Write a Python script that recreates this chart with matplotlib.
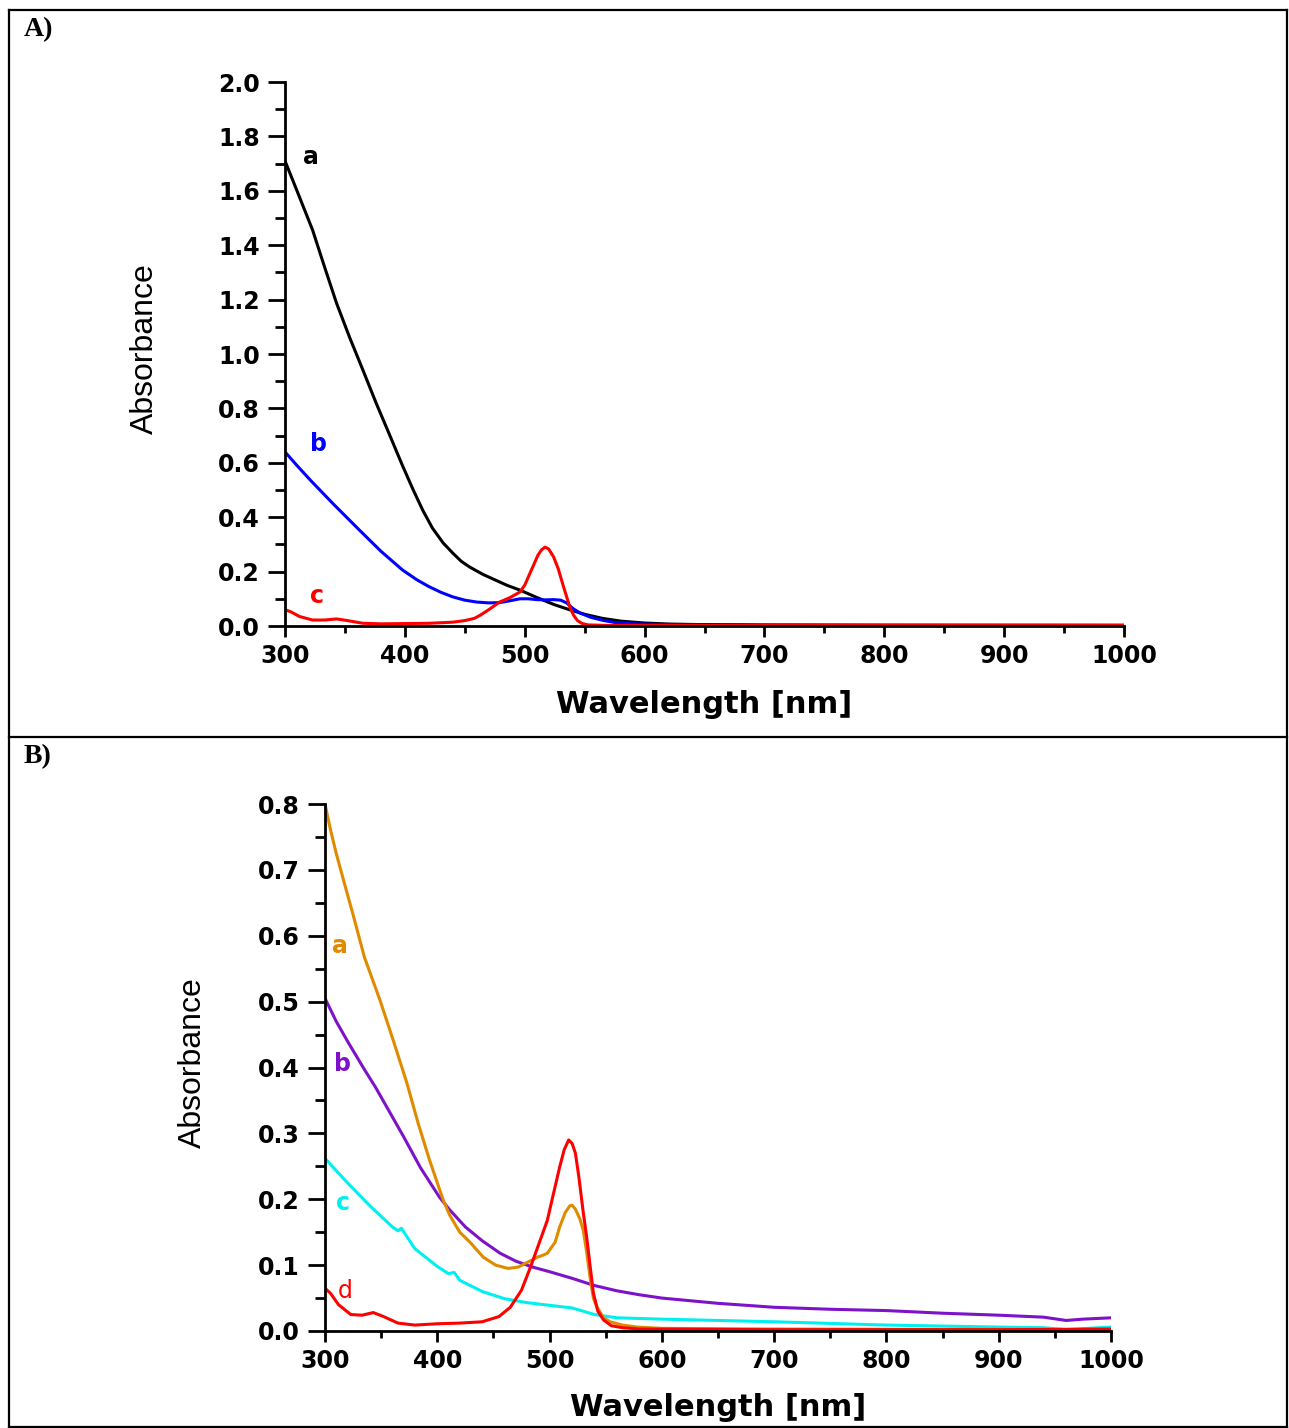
""" UV-Vis absorbance spectra, panels A and B """

import matplotlib
matplotlib.use("Agg")
import matplotlib.pyplot as plt
from matplotlib.lines import Line2D
from matplotlib.ticker import MultipleLocator

# ---- panel A data (wavelength nm, absorbance) ----
a_wl_a = [300, 310, 323, 333, 343, 354, 365, 376, 388, 398, 407, 415, 423, 432, 440,
          447, 454, 465, 475, 485, 496, 510, 525, 538, 550, 565, 580, 600, 621, 650,
          700, 800, 1000]
a_abs_a = [1.71, 1.60, 1.456, 1.32, 1.187, 1.06, 0.941, 0.82, 0.695, 0.59, 0.50, 0.425,
           0.36, 0.305, 0.268, 0.238, 0.217, 0.19, 0.17, 0.15, 0.132, 0.105, 0.078, 0.059,
           0.043, 0.028, 0.018, 0.011, 0.007, 0.005, 0.003, 0.002, 0.002]

b_wl_a = [300, 310, 321, 340, 362, 380, 398, 410, 420, 430, 440, 450, 460, 470, 479,
          488, 496, 503, 510, 517, 524, 530, 535, 540, 546, 555, 566, 575, 590, 610,
          700, 1000]
b_abs_a = [0.64, 0.59, 0.537, 0.45, 0.353, 0.275, 0.206, 0.17, 0.145, 0.124, 0.107,
           0.095, 0.088, 0.085, 0.086, 0.093, 0.1, 0.1, 0.097, 0.096, 0.097, 0.095, 0.085,
           0.065, 0.048, 0.032, 0.02, 0.013, 0.008, 0.006, 0.004, 0.003]

c_wl_a = [300, 305, 312, 323, 333, 343, 352, 365, 380, 400, 420, 440, 450, 458, 463,
          470, 479, 488, 496, 500, 503, 507, 511, 514, 517, 520, 524, 528, 532, 535,
          538, 541, 544, 548, 553, 570, 1000]
c_abs_a = [0.06, 0.052, 0.035, 0.022, 0.022, 0.026, 0.02, 0.01, 0.008, 0.009, 0.01,
           0.014, 0.02, 0.028, 0.04, 0.06, 0.088, 0.105, 0.125, 0.15, 0.18, 0.22, 0.26,
           0.28, 0.29, 0.283, 0.255, 0.21, 0.15, 0.107, 0.065, 0.038, 0.02, 0.009, 0.004,
           0.002, 0.002]

# ---- panel B data ----
a_wl_b = [300, 305, 310, 318, 325, 335, 349, 361, 373, 383, 393, 400, 405, 411, 420,
          429, 441, 452, 463, 472, 480, 489, 494, 498, 505, 509, 514, 518, 520, 523,
          527, 530, 533, 536, 539, 542, 548, 554, 565, 578, 600, 700, 1000]
a_abs_b = [0.80, 0.76, 0.725, 0.675, 0.632, 0.568, 0.502, 0.44, 0.376, 0.315, 0.26, 0.225,
           0.20, 0.176, 0.15, 0.135, 0.112, 0.1, 0.095, 0.097, 0.104, 0.112, 0.115, 0.118,
           0.135, 0.158, 0.18, 0.19, 0.191, 0.185, 0.17, 0.153, 0.12, 0.082, 0.05, 0.037,
           0.02, 0.014, 0.009, 0.006, 0.004, 0.003, 0.002]

b_wl_b = [300, 310, 320, 334, 345, 355, 370, 385, 402, 411, 425, 440, 456, 470, 485,
          500, 520, 540, 560, 580, 600, 650, 700, 750, 800, 850, 900, 940, 960, 975, 1000]
b_abs_b = [0.505, 0.47, 0.44, 0.40, 0.37, 0.34, 0.295, 0.248, 0.203, 0.184, 0.158,
           0.137, 0.118, 0.106, 0.097, 0.09, 0.08, 0.069, 0.061, 0.055, 0.05, 0.042,
           0.036, 0.033, 0.031, 0.027, 0.024, 0.021, 0.016, 0.018, 0.02]

c_wl_b = [300, 320, 340, 360, 365, 368, 380, 400, 410, 415, 420, 440, 460, 480, 500,
          520, 540, 560, 600, 700, 800, 900, 940, 960, 1000]
c_abs_b = [0.262, 0.225, 0.19, 0.158, 0.152, 0.156, 0.125, 0.098, 0.087, 0.089, 0.077,
           0.06, 0.049, 0.043, 0.039, 0.035, 0.025, 0.02, 0.018, 0.014, 0.009, 0.006,
           0.005, 0.002, 0.006]

d_wl_b = [300, 305, 312, 323, 333, 343, 352, 365, 380, 400, 420, 440, 455, 465, 475,
          483, 490, 498, 503, 509, 513, 517, 520, 523, 526, 530, 533, 536, 539, 543,
          548, 555, 565, 580, 700, 900, 1000]
d_abs_b = [0.065, 0.057, 0.04, 0.025, 0.024, 0.028, 0.022, 0.012, 0.009, 0.011, 0.012,
           0.014, 0.022, 0.036, 0.062, 0.097, 0.13, 0.168, 0.205, 0.249, 0.275, 0.29,
           0.285, 0.27, 0.235, 0.18, 0.143, 0.1, 0.058, 0.03, 0.017, 0.008, 0.005, 0.003,
           0.002, 0.002, 0.003]

ORANGE = "#e08a00"
PURPLE = "#7d12c8"
CYAN = "#00f0f0"

W, H = 1289, 1428
fig = plt.figure(figsize=(W / 100, H / 100), dpi=100)

# outer boxes
for x0, y0, x1, y1 in [(9, 10, 1287, 10), (9, 10, 9, 1427), (1287, 10, 1287, 1427),
                       (9, 737, 1287, 737), (9, 1427, 1287, 1427)]:
    fig.add_artist(Line2D([x0 / W, x1 / W], [1 - y0 / H, 1 - y1 / H], color="black", lw=1.6))

fig.text(24 / W, 1 - 30 / H, "A)", family="Liberation Serif", weight="bold", fontsize=20,
         va="center", ha="left")
fig.text(24 / W, 1 - 757 / H, "B)", family="Liberation Serif", weight="bold", fontsize=20,
         va="center", ha="left")

TICKFONT = dict(family="DejaVu Sans", weight="bold", size=17)


def style_axes(ax, ymax, ymaj, ymin):
    ax.set_xlim(300, 1000)
    ax.set_ylim(0, ymax)
    ax.spines["top"].set_visible(False)
    ax.spines["right"].set_visible(False)
    ax.spines["left"].set_linewidth(2)
    ax.spines["bottom"].set_linewidth(2)
    ax.xaxis.set_major_locator(MultipleLocator(100))
    ax.xaxis.set_minor_locator(MultipleLocator(50))
    ax.yaxis.set_major_locator(MultipleLocator(ymaj))
    ax.yaxis.set_minor_locator(MultipleLocator(ymin))
    ax.yaxis.set_major_formatter(plt.FormatStrFormatter("%.1f"))
    ax.tick_params(axis="x", which="major", direction="out", length=8, width=2, pad=5)
    ax.tick_params(axis="x", which="minor", direction="out", length=5, width=2)
    ax.tick_params(axis="y", which="major", direction="out", length=12, width=2, pad=6)
    ax.tick_params(axis="y", which="minor", direction="out", length=7, width=2)
    for lab in ax.get_xticklabels() + ax.get_yticklabels():
        lab.set_fontproperties(TICKFONT)
    ax.set_xlabel("Wavelength [nm]", family="DejaVu Sans", weight="bold", fontsize=22)
    ax.set_ylabel("Absorbance", family="Liberation Sans", fontsize=23)
    ax.xaxis.set_label_coords(0.5, -0.118)
    ax.yaxis.set_label_coords(-0.149, 0.51)


# ---- panel A ----
axA = fig.add_axes([285 / W, 1 - 626 / H, 839 / W, 544 / H])
axA.plot(a_wl_a, a_abs_a, color="black", lw=2.2)
axA.plot(b_wl_a, b_abs_a, color="#0000ff", lw=2.2)
axA.plot(c_wl_a, c_abs_a, color="#ff0000", lw=2.2)
style_axes(axA, 2.0, 0.2, 0.1)
for x, y, s, c in [(322, 1.724, "a", "black"), (328, 0.669, "b", "#0000ff"),
                   (327, 0.11, "c", "#ff0000")]:
    axA.text(x, y, s, color=c, fontsize=17, weight="bold", ha="center", va="center")

# ---- panel B ----
axB = fig.add_axes([325 / W, 1 - 1331 / H, 786 / W, 527 / H])
axB.plot(b_wl_b, b_abs_b, color=PURPLE, lw=2.2)
axB.plot(c_wl_b, c_abs_b, color=CYAN, lw=2.2)
axB.plot(a_wl_b, a_abs_b, color=ORANGE, lw=2.2)
axB.plot(d_wl_b, d_abs_b, color="#ff0000", lw=2.2)
style_axes(axB, 0.8, 0.1, 0.05)
for x, y, s, c, w in [(313, 0.584, "a", ORANGE, "bold"), (316, 0.406, "b", PURPLE, "bold"),
                      (316, 0.195, "c", CYAN, "bold"), (318, 0.06, "d", "#ff0000", "normal")]:
    axB.text(x, y, s, color=c, fontsize=17, weight=w, ha="center", va="center")

fig.savefig("out.png", dpi=100)
